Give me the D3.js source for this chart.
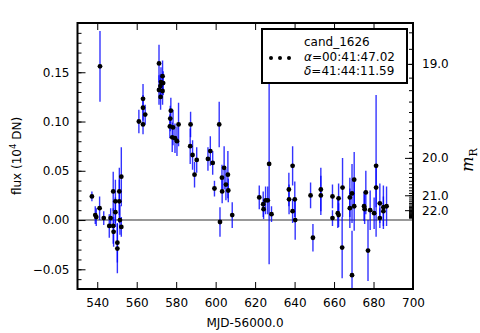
<!DOCTYPE html>
<html><head><meta charset="utf-8">
<script src="https://cdn.jsdelivr.net/npm/d3@7"></script>
<style>body{margin:0;background:#fff}svg{display:block;font-family:"DejaVu Sans",sans-serif}</style>
</head><body><svg id="c" width="480" height="333"></svg>
<script>
// Observations: MJD-56000, flux (10^4 DN), error
const mjd = [537.3,539.0,539.5,541.2,541.4,543.3,546.1,546.8,548.1,548.1,549.2,549.2,548.3,550.2,550.2,551.2,551.2,552.2,552.2,551.5,
 561.1,563.2,563.2,564.3,563.2,571.3,573.1,572.3,573.4,572.0,571.3,573.1,572.1,577.3,577.0,576.8,578.4,581.2,578.0,579.4,580.4,
 587.3,587.1,588.3,590.4,589.3,596.1,597.3,598.5,599.4,601.8,602.2,603.2,603.3,604.3,605.2,606.2,606.4,608.4,
 622.1,624.1,624.3,625.3,626.4,627.1,628.3,637.1,637.2,639.0,639.0,640.1,640.3,648.1,649.3,653.3,653.3,
 659.2,659.2,661.9,662.3,662.3,664.3,664.1,668.0,668.0,669.1,670.2,670.2,669.1,675.2,675.5,676.1,677.2,678.3,680.3,681.3,681.3,683.2,683.2,685.0,685.0,686.6];
const flux = [0.024,0.005,0.003,0.012,0.156,0.002,-0.006,0.002,0.029,-0.006,0.019,0.008,-0.012,-0.023,-0.029,0.029,0.019,0.044,-0.007,0.000,
 0.100,0.123,0.114,0.107,0.097,0.159,0.146,0.140,0.139,0.136,0.132,0.131,0.125,0.111,0.103,0.095,0.094,0.097,0.084,0.083,0.080,
 0.097,0.075,0.066,0.061,0.046,0.062,0.070,0.058,0.032,0.097,-0.002,0.043,0.029,0.053,0.036,0.046,0.030,0.005,
 0.023,0.016,0.011,0.020,0.020,0.057,0.006,0.031,0.021,0.055,0.009,0.021,0.000,0.025,-0.018,0.031,0.025,
 0.024,0.002,0.007,0.022,0.005,0.033,-0.028,0.012,0.023,0.027,0.041,0.014,-0.056,0.014,0.011,0.028,-0.031,0.010,0.007,0.055,0.033,0.017,0.002,0.013,0.009,0.014];
const ferr = [0.005,0.009,0.009,0.012,0.036,0.007,0.012,0.010,0.020,0.018,0.022,0.015,0.015,0.020,0.025,0.024,0.022,0.030,0.010,0.015,
 0.012,0.015,0.013,0.010,0.010,0.019,0.016,0.015,0.012,0.012,0.015,0.014,0.013,0.013,0.013,0.012,0.018,0.022,0.015,0.015,0.015,
 0.013,0.018,0.015,0.013,0.013,0.012,0.015,0.012,0.008,0.023,0.015,0.013,0.012,0.022,0.016,0.024,0.012,0.013,
 0.012,0.013,0.010,0.014,0.014,0.102,0.008,0.017,0.015,0.020,0.012,0.018,0.020,0.013,0.014,0.022,0.020,
 0.012,0.008,0.015,0.015,0.012,0.030,0.031,0.020,0.020,0.030,0.028,0.025,0.045,0.015,0.015,0.022,0.031,0.020,0.016,0.072,0.020,0.020,0.010,0.022,0.015,0.020];
const xTicks = [540,560,580,600,620,640,660,680,700];
const yTicks = [-0.05,0,0.05,0.10,0.15];
const magMajor = [19,20,21,22];
const magLabels = ["19.0","20.0","21.0","22.0"];
const legendLines = ["cand_1626","=00:41:47.02","=41:44:11.59"];
const legendSymbols = ["","α","δ"];

const L=77.5,R=413,T=23,B=289;
const x = d3.scaleLinear().domain([530,700]).range([L,R]);
const y = d3.scaleLinear().domain([-0.07,0.2]).range([B,T]);
const magToFlux = m => 0.01*Math.pow(10,-0.4*(m-22));

const svg = d3.select("#c");
svg.append("defs").append("clipPath").attr("id","clip").append("rect")
  .attr("x",L).attr("y",T).attr("width",R-L).attr("height",B-T);

// zero line
svg.append("line").attr("x1",L).attr("x2",R).attr("y1",y(0)).attr("y2",y(0))
  .attr("stroke","#999").attr("stroke-width",2);

const data = mjd.map((d,i)=>({x:d,f:flux[i],e:ferr[i]}));
const g = svg.append("g").attr("clip-path","url(#clip)");
g.selectAll("line.err").data(data).join("line").attr("class","err")
  .attr("x1",d=>x(d.x)).attr("x2",d=>x(d.x))
  .attr("y1",d=>y(d.f-d.e)).attr("y2",d=>y(d.f+d.e))
  .attr("stroke","#0000ff").attr("stroke-width",1.4).attr("stroke-opacity",0.8);
g.selectAll("circle").data(data).join("circle")
  .attr("cx",d=>x(d.x)).attr("cy",d=>y(d.f)).attr("r",2.4).attr("fill","#000");

function style(sel){sel.select(".domain").remove();
  sel.selectAll(".tick line").attr("stroke","#000").attr("stroke-width",1);
  sel.selectAll("text").attr("font-size",12).attr("fill","#000").attr("font-family","DejaVu Sans");}

svg.append("g").attr("transform",`translate(0,${B})`)
  .call(d3.axisBottom(x).tickValues(xTicks).tickSize(-7).tickPadding(9).tickFormat(d3.format("d"))).call(style);
svg.append("g").attr("transform",`translate(0,${T})`)
  .call(d3.axisTop(x).tickValues(xTicks).tickSize(-7).tickFormat("")).call(style);
svg.append("g").attr("transform",`translate(${L},0)`)
  .call(d3.axisLeft(y).tickValues(yTicks).tickSize(-8).tickPadding(8).tickFormat(d3.format(".2f"))).call(style);
svg.append("g").attr("transform",`translate(${L},0)`)
  .call(d3.axisLeft(y).tickValues(d3.range(-6,20).map(v=>v/100)).tickSize(-4).tickFormat("")).call(style);
// right magnitude axis
svg.append("g").attr("transform",`translate(${R},0)`)
  .call(d3.axisRight(y).tickValues(magMajor.map(magToFlux)).tickSize(-8).tickPadding(9)
    .tickFormat((d,i)=>magLabels[i])).call(style);
svg.append("g").attr("transform",`translate(${R},0)`)
  .call(d3.axisRight(y).tickValues(d3.range(188,236).map(v=>magToFlux(v/10)).filter(f=>f<0.2)).tickSize(-4).tickFormat("")).call(style);

// frame
svg.append("rect").attr("x",L).attr("y",T).attr("width",R-L).attr("height",B-T)
  .attr("fill","none").attr("stroke","#000").attr("stroke-width",2);

// axis labels
svg.append("text").attr("x",245).attr("y",327).attr("text-anchor","middle").attr("font-size",12).text("MJD-56000.0");
const yl = svg.append("text").attr("transform","translate(21,156) rotate(-90)").attr("text-anchor","middle").attr("font-size",12);
yl.append("tspan").text("flux (10");
yl.append("tspan").attr("font-size",8.5).attr("dy",-5).text("4");
yl.append("tspan").attr("dy",5).text(" DN)");
const rl = svg.append("text").attr("transform","translate(473,160) rotate(-90)").attr("text-anchor","middle")
  .attr("font-family","DejaVu Serif");
rl.append("tspan").attr("font-size",16).attr("font-style","italic").text("m");
rl.append("tspan").attr("font-size",11).attr("dy",4).text("R");

// legend
const lg = svg.append("g");
lg.append("rect").attr("x",262).attr("y",29).attr("width",145).attr("height",54)
  .attr("fill","#fff").attr("stroke","#000").attr("stroke-width",2);
lg.selectAll("circle").data([271,280,289]).join("circle")
  .attr("cx",d=>d).attr("cy",58).attr("r",2).attr("fill","#000");
legendLines.forEach((t,i)=>{
  const tx = lg.append("text").attr("x",304).attr("y",46+i*14.5).attr("font-size",12);
  if(legendSymbols[i]) tx.append("tspan").attr("font-style","italic").text(legendSymbols[i]);
  tx.append("tspan").text(t);
});
</script></body></html>
